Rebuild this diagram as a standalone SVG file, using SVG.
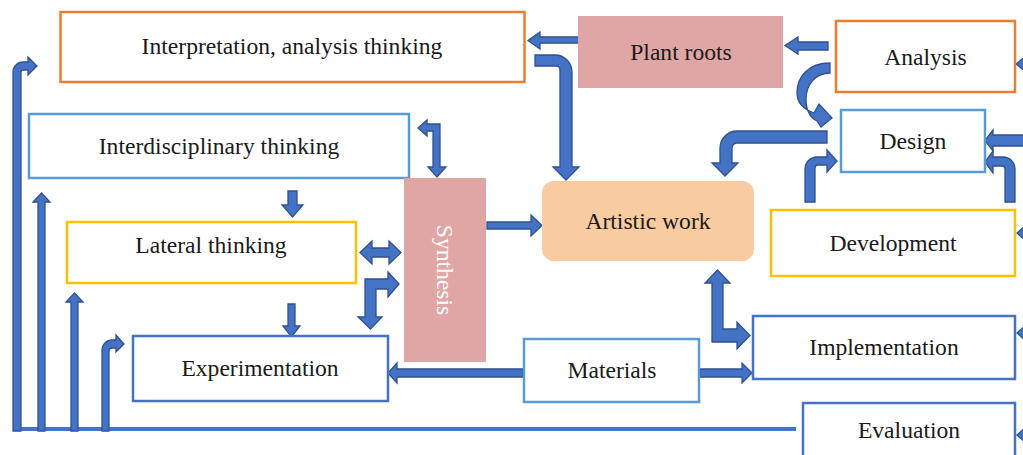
<svg xmlns="http://www.w3.org/2000/svg" width="1023" height="455" viewBox="0 0 1023 455">
<style>
.box{fill:#FFFFFF;stroke-width:2.5}
.o{stroke:#ED7D31}.lb{stroke:#5B9BD5}.b{stroke:#4472C4}.y{stroke:#FFC000}
.pink{fill:#DFA6A5}
.peach{fill:#F8CBA0}
.t{font-family:"Liberation Serif","Times New Roman",serif;font-size:23.6px;fill:#1A1A1A;text-anchor:middle}
.w{fill:#FFFFFF}
.ba{fill:#4472C4;stroke:#2F528F;stroke-width:1.3;stroke-linejoin:miter}
</style>
<rect width="1023" height="455" fill="#FFFFFF"/>
<g id="connectors">
<rect x="13" y="427" width="783" height="4" fill="#4472C4"/>
<path class="ba" d="M13,431 L13,72 A10,10 0 0 1 23,62 L28,62 L28,57 L37,66 L28,75 L28,70 L23,70 A2,2 0 0 0 21,72 L21,431 Z"/>
<path class="ba" d="M38,431 L38,202 L33,202 L41.5,193 L50,202 L45,202 L45,431 Z"/>
<path class="ba" d="M71,431 L71,302 L66,302 L74.5,293 L83,302 L78,302 L78,431 Z"/>
<path class="ba" d="M102,431 L102,350 A10,10 0 0 1 112,340 L116,340 L116,335 L124,344 L116,352 L116,348 L112,348 A3,3 0 0 0 109,351 L109,431 Z"/>
<path class="ba" d="M579,37 L540,37 L540,32 L528,40.5 L540,49 L540,43 L579,43 Z"/>
<path class="ba" d="M828,42 L798,42 L798,37 L785,45.5 L798,54 L798,50 L828,50 Z"/>
<path class="ba" d="M535,55 L555,55 A17,17 0 0 1 572,72 L572,167 L579,167 L566,180 L553,167 L560,167 L560,70 A4,4 0 0 0 556,66 L535,66 Z"/>
<path class="ba" d="M830,63 C808,63 797,77 797,93 C797,103 803,109 814,113 L819,104 L832,118 L821,127 L817,121 C809,117 806,109 806,99 C806,85 815,73 830,73 Z"/>
<path class="ba" d="M827,131 L737,131 A17,17 0 0 0 720,148 L720,163 L712,163 L725,176 L738,163 L732,163 L732,148 A5,5 0 0 1 737,143 L827,143 Z"/>
<path class="ba" d="M805,202 L805,169 A12,12 0 0 1 817,157 L827,157 L827,150 L837,161 L827,172 L827,165 L818,165 A3,3 0 0 0 815,168 L815,202 Z"/>
<path class="ba" d="M1015,202 L1015,169 A12,12 0 0 0 1003,157 L993,157 L993,151 L985,162 L993,173 L993,166 L1002,166 A3,3 0 0 1 1005,169 L1005,202 Z"/>
<path class="ba" d="M1025,135 L993,135 L993,130 L985,140.5 L993,151 L993,146 L1025,146 Z"/>
<path class="ba" d="M1016,64 L1026,56 L1026,72 Z"/>
<path class="ba" d="M1017,233 L1026,225 L1026,241 Z"/>
<path class="ba" d="M1017,333 L1026,325 L1026,341 Z"/>
<path class="ba" d="M1017,435 L1026,427 L1026,443 Z"/>
<path class="ba" d="M418,128 L427,120 L427,124 L440,124 L440,167 L446,167 L437,177 L428,167 L433,167 L433,131 L427,131 L427,136 Z"/>
<path class="ba" d="M288,191 L297,191 L297,205 L303,205 L292.5,217 L282,205 L288,205 Z"/>
<path class="ba" d="M360,252.5 L372,241 L372,248 L389,248 L389,241 L401,252.5 L389,264 L389,257 L372,257 L372,264 Z"/>
<path class="ba" d="M399,284 L388,272 L388,279 L365,279 L365,317 L358,317 L370.5,329 L382,317 L376,317 L376,289 L388,289 L388,297 Z"/>
<path class="ba" d="M288,304 L295,304 L295,326 L300,326 L291.5,337 L283,326 L288,326 Z"/>
<path class="ba" d="M487,222 L531,222 L531,215 L542,225.5 L531,236 L531,229 L487,229 Z"/>
<path class="ba" d="M523,369 L397,369 L397,363 L388,373 L397,383 L397,377 L523,377 Z"/>
<path class="ba" d="M700,369 L742,369 L742,363 L752,373 L742,383 L742,377 L700,377 Z"/>
<path class="ba" d="M717.5,270 L730,283 L723,283 L723,329 L737,329 L737,322 L750,335.5 L737,349 L737,342 L712,342 L712,283 L705,283 Z"/>
</g>
<g id="interpretation"><rect class="box o" x="60.5" y="12" width="464" height="70"/><text class="t" x="292" y="54">Interpretation, analysis thinking</text></g>
<g id="plant-roots"><rect class="pink" x="578" y="16" width="205" height="72"/><text class="t" x="681" y="60">Plant roots</text></g>
<g id="analysis"><rect class="box o" x="836" y="21" width="179" height="71"/><text class="t" x="925.5" y="64.5">Analysis</text></g>
<g id="design"><rect class="box lb" x="841" y="110" width="144" height="62"/><text class="t" x="913" y="148.5">Design</text></g>
<g id="interdisciplinary"><rect class="box lb" x="29" y="114" width="380" height="64"/><text class="t" x="219" y="153.5">Interdisciplinary thinking</text></g>
<g id="synthesis"><rect class="pink" x="404" y="178" width="82" height="184"/><text class="t w" transform="translate(437,270) rotate(90)">Synthesis</text></g>
<g id="artistic-work"><rect class="peach" x="542" y="181" width="212" height="80" rx="12"/><text class="t" x="648" y="229">Artistic work</text></g>
<g id="development"><rect class="box y" x="771" y="210" width="244" height="66"/><text class="t" x="893" y="251">Development</text></g>
<g id="lateral"><rect class="box y" x="67" y="222" width="289" height="61"/><text class="t" x="211" y="253">Lateral thinking</text></g>
<g id="implementation"><rect class="box b" x="753" y="316" width="262" height="63"/><text class="t" x="884" y="355">Implementation</text></g>
<g id="experimentation"><rect class="box b" x="133" y="336" width="255" height="65"/><text class="t" x="260" y="376">Experimentation</text></g>
<g id="materials"><rect class="box lb" x="524" y="339" width="175" height="63"/><text class="t" x="612" y="378">Materials</text></g>
<g id="evaluation"><rect class="box b" x="803" y="403" width="212" height="60"/><text class="t" x="909" y="438">Evaluation</text></g>
</svg>
